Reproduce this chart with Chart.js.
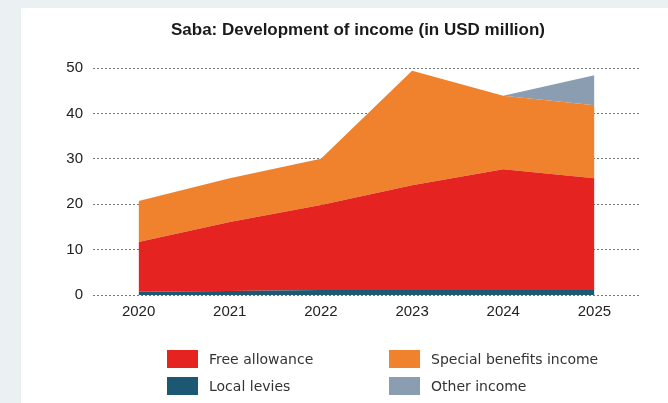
<!DOCTYPE html>
<html>
<head>
<meta charset="utf-8">
<script src="https://cdn.jsdelivr.net/npm/chart.js@4"></script>
<style>
  html, body { margin: 0; padding: 0; }
  body { width: 668px; height: 403px; background: #ebf0f3; position: relative; overflow: hidden; }
  #panel { position: absolute; left: 21px; top: 8px; width: 647px; height: 395px; background: #fff; }
  #wrap { position: absolute; left: 0; top: 0; width: 647px; height: 395px; }
  #title { position: absolute; left: 158px; top: 20px; width: 400px; text-align: center; white-space: nowrap;
           font: bold 17px/20px 'Liberation Sans', Arial, sans-serif; color: #1a1a1a; }
  .lg { position: absolute; font: 14px 'DejaVu Sans', sans-serif; color: #333; white-space: nowrap; height: 18px; }
  .lg i { position: absolute; left: 0; top: 0; width: 31px; height: 18px; }
  .lg span { position: absolute; left: 42px; top: 0; line-height: 18px; }
</style>
</head>
<body>
<div id="panel">
  <div id="wrap"><canvas id="chart"></canvas></div>
</div>
<div id="title">Saba: Development of income (in USD million)</div>
<div id="legend"></div>
<script>
// Saba: income in USD million
const years          = ['2020', '2021', '2022', '2023', '2024', '2025'];
const localLevies    = [0.7, 0.9, 1.1, 1.1, 1.1, 1.1];
const freeAllowance  = [11.0, 15.2, 18.7, 23.1, 26.6, 24.6];
const specialBenefit = [9.0, 9.6, 10.2, 25.2, 16.2, 16.1];
const otherIncome    = [0, 0, 0, 0, 0, 6.6];
const yTicks         = [0, 10, 20, 30, 40, 50];

const COLORS = {
  levies:  '#1c5873',
  free:    '#e52421',
  special: '#f0812d',
  other:   '#8b9db0',
};

function area(label, data, color, fill) {
  return {
    label, data, fill,
    backgroundColor: color,
    borderColor: color,
    borderWidth: 0,
    pointRadius: 0,
    tension: 0,
  };
}

// legend (2 columns, like the reference)
const legendItems = [
  { text: 'Free allowance',          color: COLORS.free,    x: 167, y: 350 },
  { text: 'Special benefits income', color: COLORS.special, x: 389, y: 350 },
  { text: 'Local levies',            color: COLORS.levies,  x: 167, y: 377 },
  { text: 'Other income',            color: COLORS.other,   x: 389, y: 377 },
];
document.getElementById('legend').innerHTML = legendItems.map(it =>
  `<div class="lg" style="left:${it.x}px;top:${it.y}px"><i style="background:${it.color}"></i><span>${it.text}</span></div>`
).join('');

const tickFont = { family: "'Liberation Sans', Arial, sans-serif", size: 15 };

new Chart(document.getElementById('chart'), {
  type: 'line',
  data: {
    labels: years,
    datasets: [
      area('Local levies', localLevies, COLORS.levies, 'origin'),
      area('Free allowance', freeAllowance, COLORS.free, '-1'),
      area('Special benefits income', specialBenefit, COLORS.special, '-1'),
      area('Other income', otherIncome, COLORS.other, '-1'),
    ],
  },
  options: {
    responsive: true,
    maintainAspectRatio: false,
    animation: false,
    layout: { padding: { left: 0, right: 28, top: 60, bottom: 78 } },
    plugins: {
      legend: { display: false },
      tooltip: { enabled: false },
      title: { display: false },
    },
    scales: {
      x: {
        offset: true,
        grid: { display: false, drawTicks: false },
        border: { display: false },
        ticks: { color: '#222', font: tickFont, padding: 8 },
        afterFit: s => { s.height = 30; },
      },
      y: {
        stacked: true,
        min: 0,
        max: 50,
        afterBuildTicks: s => { s.ticks = yTicks.map(v => ({ value: v })); },
        grid: { color: '#777', lineWidth: 1, drawTicks: false },
        border: { display: false, dash: [2, 2] },
        ticks: { color: '#222', font: tickFont, padding: 10 },
        afterFit: s => { s.width = 72; },
      },
    },
  },
});
</script>
</body>
</html>
